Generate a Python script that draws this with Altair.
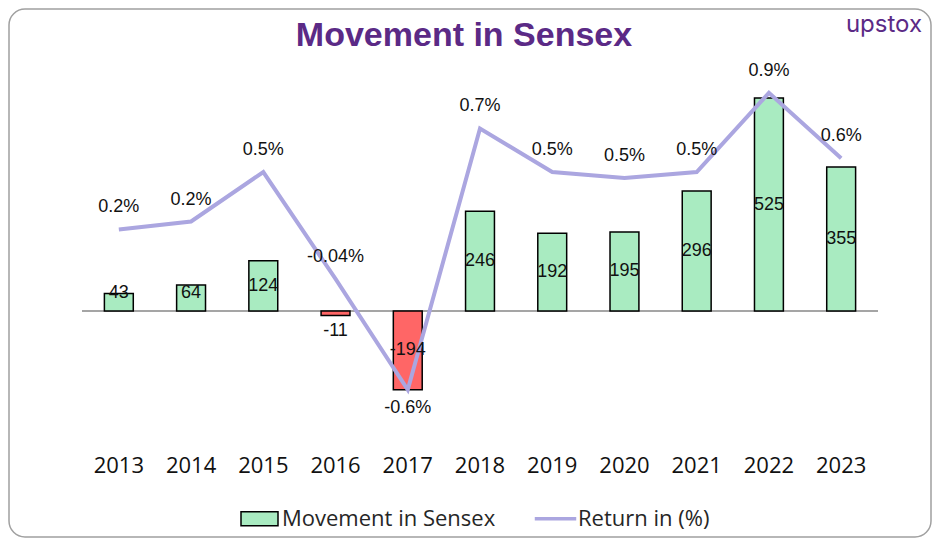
import altair as alt
import pandas as pd

# ---- data ----
years = ["2013", "2014", "2015", "2016", "2017", "2018", "2019", "2020", "2021", "2022", "2023"]
movement = [43, 64, 124, -11, -194, 246, 192, 195, 296, 525, 355]
returns = [0.21, 0.25, 0.50, -0.04, -0.60, 0.72, 0.50, 0.47, 0.50, 0.90, 0.57]
return_labels = ["0.2%", "0.2%", "0.5%", "-0.04%", "-0.6%", "0.7%", "0.5%", "0.5%", "0.5%", "0.9%", "0.6%"]
series_names = ["Movement in Sensex", "Return in (%)"]
title_text = "Movement in Sensex"
logo_text = "upstox"

GREEN = "#A9EBC1"
RED = "#FF6666"
LAVENDER = "#ABA6E0"
PURPLE = "#5B2A86"

W, H = 796, 380

df = pd.DataFrame({"year": years, "movement": movement, "ret": returns, "ret_label": return_labels})
leg_df = pd.DataFrame({"series": series_names})
one = pd.DataFrame({"t": [title_text], "logo": [logo_text]})

x_scale = alt.Scale(domain=years, paddingInner=0.6, paddingOuter=0.31)
y1 = alt.Scale(domain=[-318, 619], nice=False, zero=False)
y2 = alt.Scale(domain=[-0.854, 1.066], nice=False, zero=False)

base = alt.Chart(df).transform_calculate(mlabel="'' + datum.movement")

x_axis = alt.X("year:N", scale=x_scale, sort=years, title=None,
               axis=alt.Axis(domain=False, ticks=False, tickSize=0, grid=False, labelAngle=0,
                             labelFont="Open Sans", labelFontSize=22, labelColor="#111111",
                             labelPadding=15))

frame = alt.Chart(one).mark_rect(fill="white", fillOpacity=0, stroke="#A0A0A0", strokeWidth=1.5,
                                 cornerRadius=16).encode(
    x=alt.value(-73), x2=alt.value(W + 53), y=alt.value(-51), y2=alt.value(H + 97))

title = alt.Chart(one).mark_text(font="Liberation Sans", fontSize=34, fontWeight="bold", color=PURPLE,
                                 align="center", baseline="alphabetic").encode(
    x=alt.value(382), y=alt.value(-14), text="t:N")

logo = alt.Chart(one).mark_text(font="Inter", fontSize=24, fontWeight=400, color=PURPLE,
                                align="right", baseline="alphabetic").encode(
    x=alt.value(840), y=alt.value(-28), text="logo:N")

zero_rule = base.mark_rule(color="#A6A6A6", strokeWidth=1).encode(
    y=alt.Y(datum=0, scale=y1, axis=None))

bars = base.mark_bar(stroke="#000000", strokeWidth=1.5).encode(
    x=x_axis,
    y=alt.Y("movement:Q", scale=y1, axis=None),
    y2=alt.Y2(datum=0),
    fill=alt.condition(alt.datum.movement < 0, alt.value(RED), alt.value(GREEN)),
)

lab_style = dict(font="Liberation Sans", fontSize=18, color="#111111", align="center", baseline="middle")

big_labels = base.transform_filter("abs(datum.movement) >= 90").transform_calculate(
    mid="datum.movement / 2").mark_text(**lab_style).encode(
    x=x_axis, y=alt.Y("mid:Q", scale=y1, axis=None), text="mlabel:N")

small_pos = base.transform_filter("datum.movement > 0 && datum.movement < 90").transform_calculate(
    z="0").mark_text(dy=-18, **lab_style).encode(
    x=x_axis, y=alt.Y("z:Q", scale=y1, axis=None), text="mlabel:N")

small_neg = base.transform_filter("datum.movement < 0 && datum.movement > -90").transform_calculate(
    z="0").mark_text(dy=20, **lab_style).encode(
    x=x_axis, y=alt.Y("z:Q", scale=y1, axis=None), text="mlabel:N")

line = base.mark_line(color=LAVENDER, strokeWidth=4).encode(
    x=x_axis, y=alt.Y("ret:Q", scale=y2, axis=None))

pct_above = base.transform_filter("datum.ret > -0.3").mark_text(dy=-22, **lab_style).encode(
    x=x_axis, y=alt.Y("ret:Q", scale=y2, axis=None), text="ret_label:N")

pct_below = base.transform_filter("datum.ret <= -0.3").mark_text(dy=18, **lab_style).encode(
    x=x_axis, y=alt.Y("ret:Q", scale=y2, axis=None), text="ret_label:N")

rect_path = "M-1,-0.38H1V0.38H-1Z"
line_path = "M-1.08,-0.06H1.08V0.06H-1.08Z"
legend = alt.Legend(title=None, orient="none", legendX=158, legendY=439, direction="horizontal",
                    symbolSize=1369, symbolStrokeWidth=1.5, labelFont="Open Sans", labelFontSize=22,
                    labelColor="#262626", labelOffset=3, columnPadding=36, labelLimit=400)

legend_layer = alt.Chart(leg_df).mark_point(filled=True, opacity=1).encode(
    x=alt.value(-1000), y=alt.value(-1000),
    shape=alt.Shape("series:N", scale=alt.Scale(domain=series_names, range=[rect_path, line_path]), legend=legend),
    fill=alt.Fill("series:N", scale=alt.Scale(domain=series_names, range=[GREEN, LAVENDER]), legend=legend),
    stroke=alt.Stroke("series:N", scale=alt.Scale(domain=series_names, range=["#000000", LAVENDER]), legend=legend),
)

chart = alt.layer(
    frame, title, logo, zero_rule, bars, line, big_labels, small_pos, small_neg,
    pct_above, pct_below, legend_layer
).resolve_scale(y="independent").properties(
    width=W, height=H,
    autosize=alt.AutoSizeParams(type="none"),
    padding={"left": 74, "top": 52, "right": 54, "bottom": 98},
    background="white",
).configure_view(stroke=None)

chart.save("out.html", embed_options={"renderer": "svg", "actions": False})
